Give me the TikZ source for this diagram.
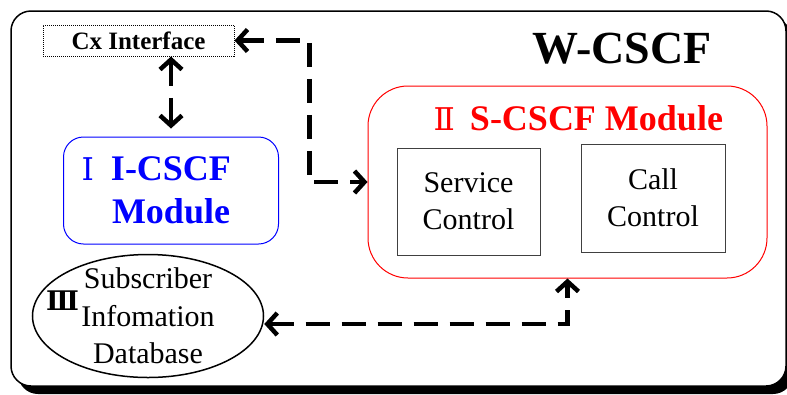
\documentclass[tikz,border=0pt]{standalone}
\usepackage{fontspec}
\setmainfont{Liberation Serif}
\newfontfamily\numfont[Scale=0.87]{DejaVu Serif}
\usepackage{tikz}
\usetikzlibrary{arrows.meta,positioning,shapes.geometric,shadows}
\newcommand{\romI}{{\numfont\mdseries Ⅰ}}
\newcommand{\romII}{{\numfont\mdseries Ⅱ}}
\newcommand{\romIII}{{\numfont\bfseries Ⅲ}}
\definecolor{cscfblue}{HTML}{0000FF}
\definecolor{cscfred}{HTML}{FF0000}
\definecolor{cscfgray}{HTML}{404040}
\tikzset{
  outerbox/.style={draw=black, line width=1.5pt, rounded corners=20pt, fill=white, minimum width=775pt, minimum height=375pt,
    drop shadow={shadow xshift=7pt, shadow yshift=-8pt, fill=black, opacity=1}},
  cxbox/.style={draw=black, densely dotted, line width=1pt, minimum width=191pt, minimum height=31pt, inner sep=0pt,
    font=\bfseries\fontsize{25}{28}\selectfont},
  module/.style={rounded corners=20pt, line width=1pt, inner sep=0pt, align=center},
  subbox/.style={draw=cscfgray, line width=1pt, minimum width=143pt, minimum height=107pt, inner sep=0pt, align=center,
    font=\fontsize{30}{37}\selectfont},
  dbell/.style={draw=black, ellipse, line width=1.5pt, minimum width=231pt, minimum height=123pt, inner sep=0pt},
  link/.style={line width=4.5pt, dash pattern=on 24pt off 12pt,
    {Straight Barb[length=10pt,width=22pt]}-{Straight Barb[length=10pt,width=22pt]}}
}

\begin{document}
\begin{tikzpicture}[x=1pt, y=-1pt]
  \useasboundingbox (0,0) rectangle (787,394);
  \node[outerbox] (wcscf) at (398.5,198.5) {};
  \node[anchor=base, font=\bfseries\fontsize{46}{50}\selectfont] (title) at (622,63) {W-CSCF};
  \node[cxbox] (cx) at (138.5,40.5) {Cx Interface};
  % modules
  \node[module, draw=cscfblue, text=cscfblue, minimum width=215pt, minimum height=107pt,
    font=\bfseries\fontsize{36}{43}\selectfont] (icscf) at (171,190.5) {\llap{\romI\hspace{17pt}}I-CSCF\\Module};
  \node[module, draw=cscfred, rounded corners=40pt, minimum width=399pt, minimum height=192pt] (scscf) at (567.5,182) {};
  \node[anchor=base, text=cscfred, font=\bfseries\fontsize{36}{43}\selectfont] (stitle) at (596.5,130) {\llap{\romII\hspace{15pt}}S-CSCF Module};
  \node[subbox] (svc) at (468.5,201.5) {Service\\Control};
  \node[subbox, minimum width=144pt, minimum height=108pt] (call) at (653,198) {Call\\Control};
  % database
  \node[dbell] (db) at (148,316) {};
  \node[align=center, font=\fontsize{30}{37.5}\selectfont] (dbtext) at (db) {Subscriber\\Infomation\\Database};
  \node[font=\fontsize{31}{34}\selectfont] (dbnum) at (62.5,301) {\romIII};
  % links
  \draw[link, shorten >=8pt] (icscf.north |- cx.south) -- (icscf.north);
  \draw[link] (cx.east) -- ++(75,0) |- (scscf.west);
  \draw[link] ([yshift=-8pt]db.east) -| (scscf.south);
\end{tikzpicture}
\end{document}
